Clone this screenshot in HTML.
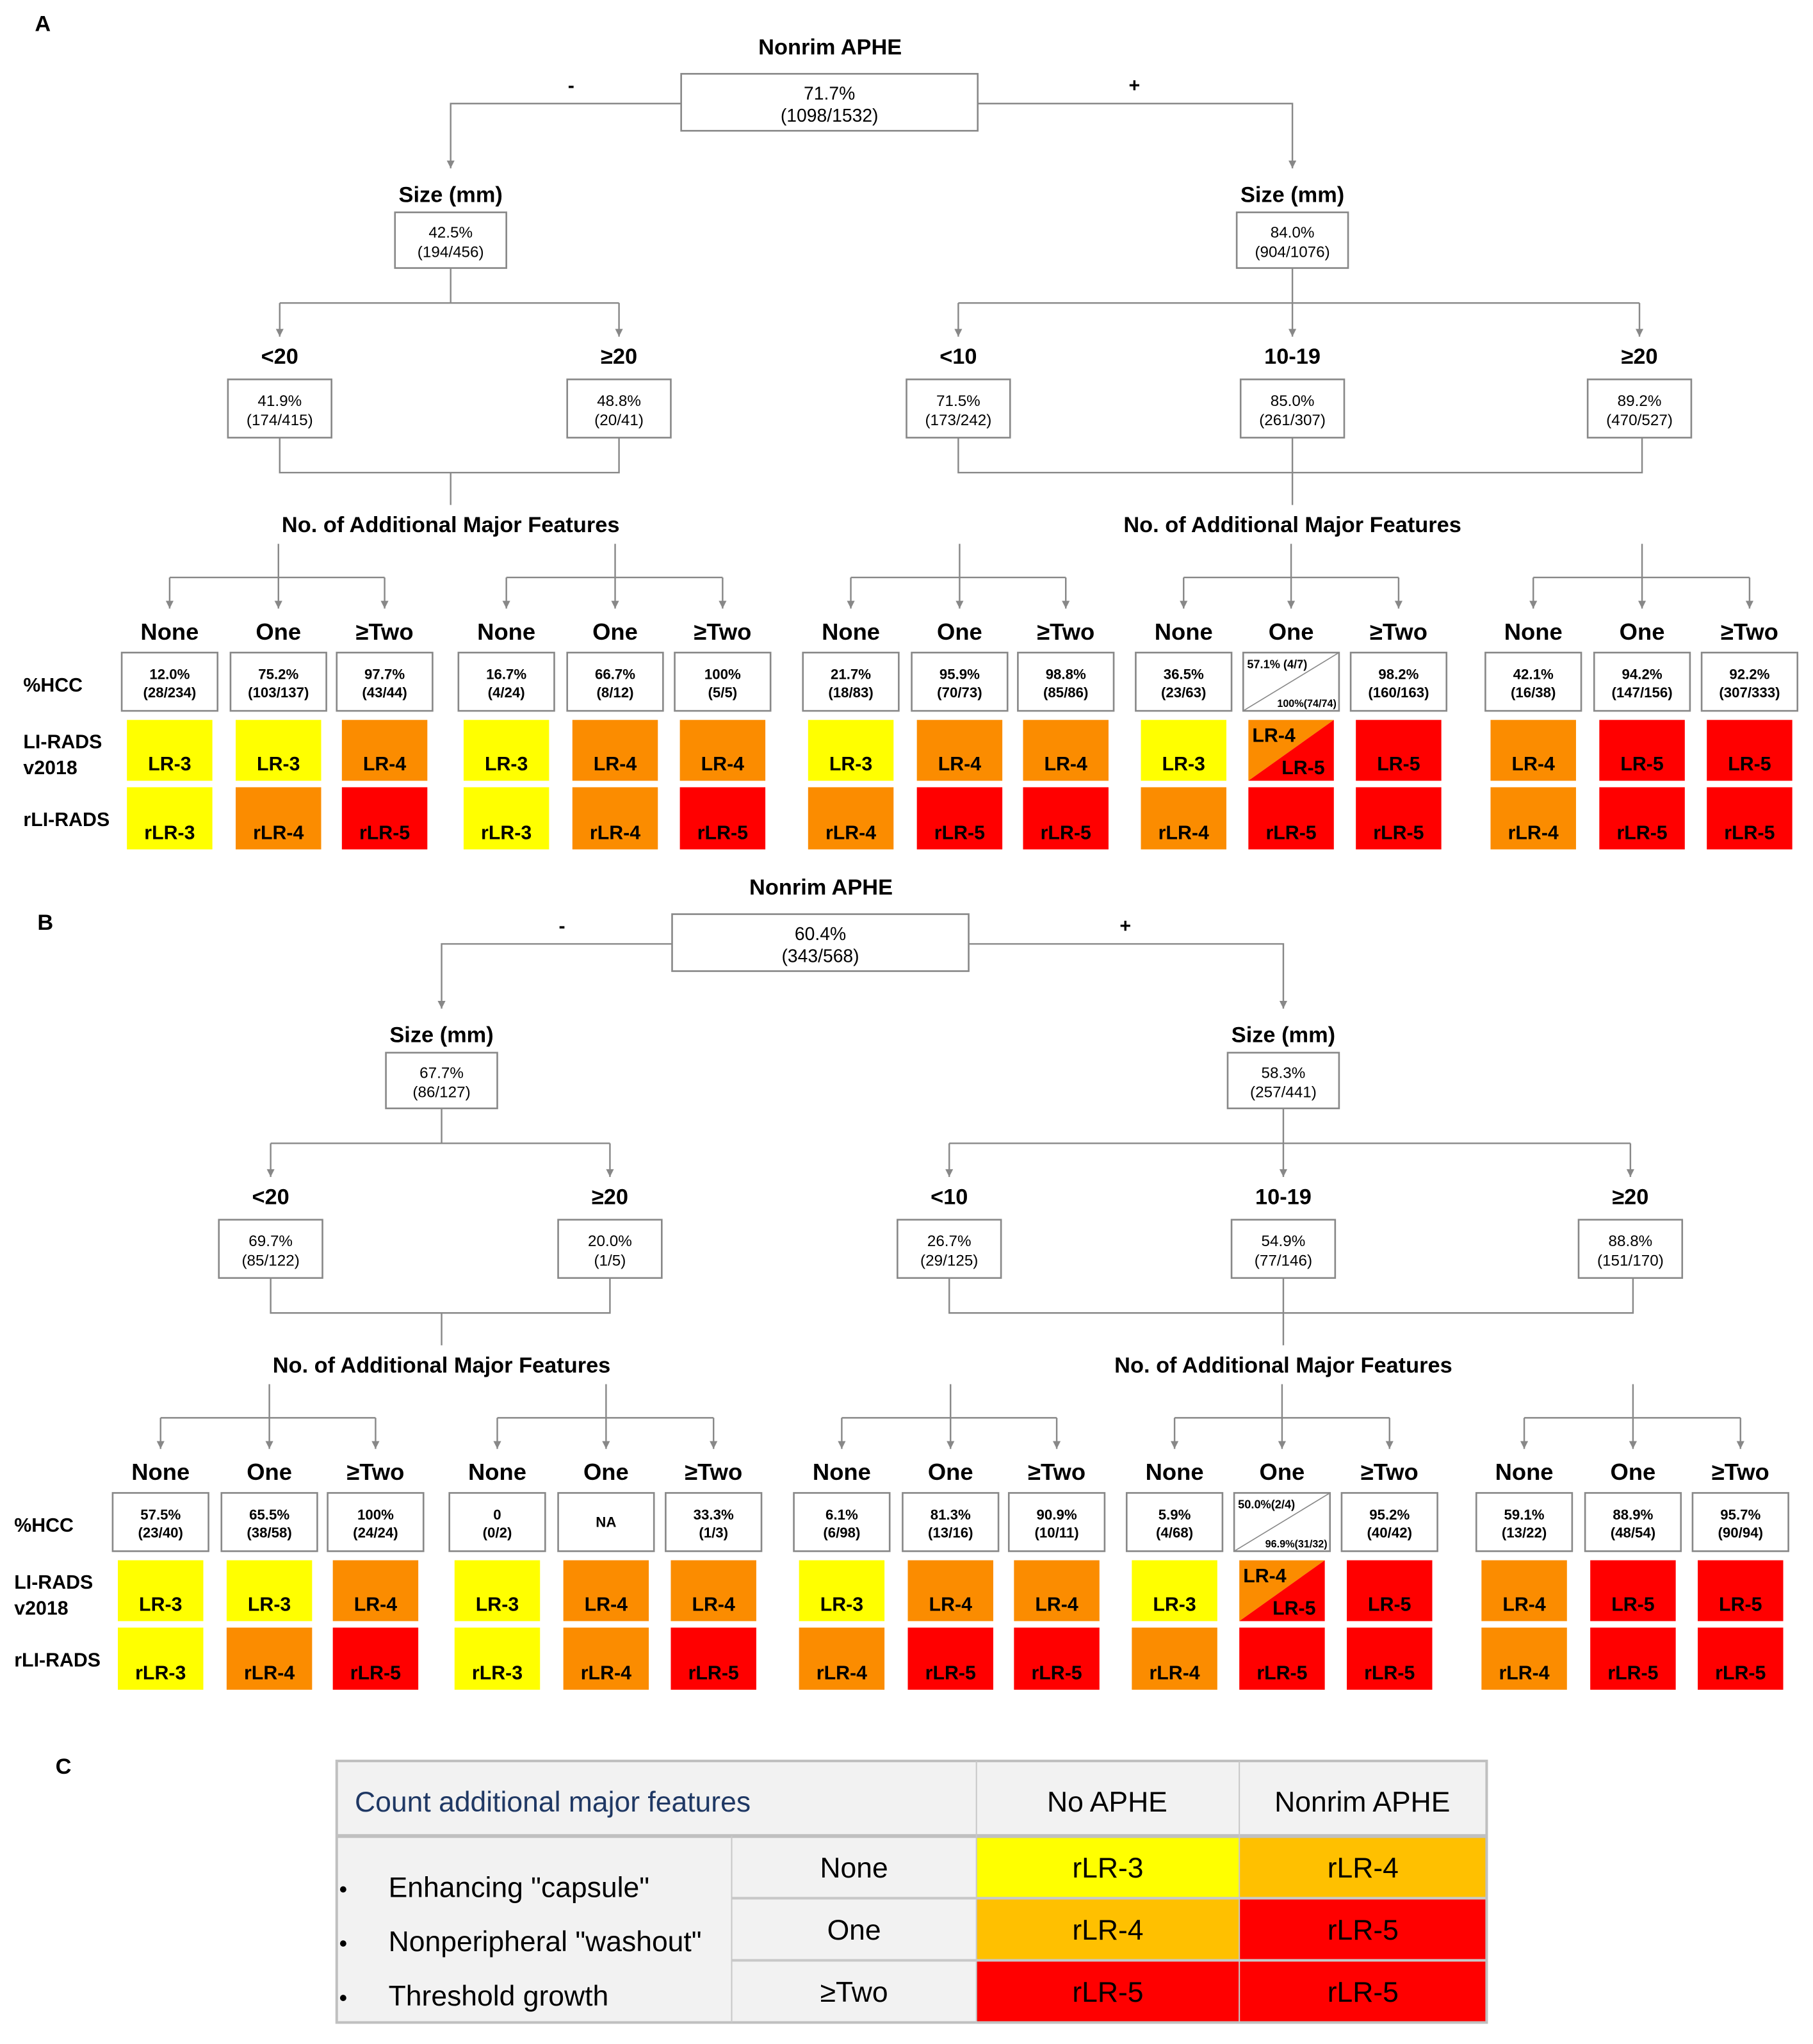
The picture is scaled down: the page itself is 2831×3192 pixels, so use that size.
<!DOCTYPE html>
<html><head><meta charset="utf-8"><style>
html,body{margin:0;padding:0;background:#fff;}
svg{display:block;}
text{font-family:"Liberation Sans",Arial,sans-serif;}
</style></head>
<body>
<svg id="fig" xmlns="http://www.w3.org/2000/svg" width="2831" height="3192" viewBox="0 0 1400 1578.6" preserveAspectRatio="none">
<defs><marker id="arr" viewBox="0 0 10 10" refX="10" refY="5" markerWidth="7" markerHeight="6" orient="auto" markerUnits="userSpaceOnUse"><path d="M0,0 L10,5 L0,10 z" fill="#888"/></marker></defs>
</svg>
<script>
// ---- data ----
const groupLabels = ["None","One","\u2265Two"];
const rootPctA = ["71.7%","(1098/1532)"];
const rootPctB = ["60.4%","(343/568)"];
const sizeA = [["42.5%","(194/456)"],["84.0%","(904/1076)"]];
const sizeB = [["67.7%","(86/127)"],["58.3%","(257/441)"]];
const sizeCatsLeft = ["<20","\u226520"];
const sizeCatsRight = ["<10","10-19","\u226520"];
const sizeBoxesA = [["41.9%","(174/415)"],["48.8%","(20/41)"],["71.5%","(173/242)"],["85.0%","(261/307)"],["89.2%","(470/527)"]];
const sizeBoxesB = [["69.7%","(85/122)"],["20.0%","(1/5)"],["26.7%","(29/125)"],["54.9%","(77/146)"],["88.8%","(151/170)"]];
const hccA = [["12.0%","(28/234)"],["75.2%","(103/137)"],["97.7%","(43/44)"],["16.7%","(4/24)"],["66.7%","(8/12)"],["100%","(5/5)"],["21.7%","(18/83)"],["95.9%","(70/73)"],["98.8%","(85/86)"],["36.5%","(23/63)"],["SPLIT","57.1% (4/7)","100%(74/74)"],["98.2%","(160/163)"],["42.1%","(16/38)"],["94.2%","(147/156)"],["92.2%","(307/333)"]];
const lrA = ["LR-3","LR-3","LR-4","LR-3","LR-4","LR-4","LR-3","LR-4","LR-4","LR-3","LR-4/5","LR-5","LR-4","LR-5","LR-5"];
const rlrA = ["rLR-3","rLR-4","rLR-5","rLR-3","rLR-4","rLR-5","rLR-4","rLR-5","rLR-5","rLR-4","rLR-5","rLR-5","rLR-4","rLR-5","rLR-5"];
const hccB = [["57.5%","(23/40)"],["65.5%","(38/58)"],["100%","(24/24)"],["0","(0/2)"],["NA"],["33.3%","(1/3)"],["6.1%","(6/98)"],["81.3%","(13/16)"],["90.9%","(10/11)"],["5.9%","(4/68)"],["SPLIT","50.0%(2/4)","96.9%(31/32)"],["95.2%","(40/42)"],["59.1%","(13/22)"],["88.9%","(48/54)"],["95.7%","(90/94)"]];
const lrB = ["LR-3","LR-3","LR-4","LR-3","LR-4","LR-4","LR-3","LR-4","LR-4","LR-3","LR-4/5","LR-5","LR-4","LR-5","LR-5"];
const rlrB = ["rLR-3","rLR-4","rLR-5","rLR-3","rLR-4","rLR-5","rLR-4","rLR-5","rLR-5","rLR-4","rLR-5","rLR-5","rLR-4","rLR-5","rLR-5"];

const NS="http://www.w3.org/2000/svg";
const svg=document.getElementById('fig');
const YEL="#ffff00",ORG="#fb8c00",RED="#ff0000",GR="#888";
function colorOf(s){ if(s.endsWith('3'))return YEL; if(s.endsWith('4'))return ORG; return RED; }
function mk(tag,attrs,parent){const e=document.createElementNS(NS,tag);for(const k in attrs)e.setAttribute(k,attrs[k]);(parent||svg).appendChild(e);return e;}
function txt(x,y,s,size,weight,anchor,fill,parent){const t=mk('text',{x:x,y:y,'font-size':size,'font-weight':weight||'normal','text-anchor':anchor||'middle',fill:fill||'#000'},parent);t.textContent=s;return t;}
function line(pts,arrow,parent){const p=mk('polyline',{points:pts.map(a=>a.join(',')).join(' '),fill:'none',stroke:GR,'stroke-width':1.2},parent);if(arrow)p.setAttribute('marker-end','url(#arr)');return p;}
function box(x1,y1,x2,y2,lines,size,bold,parent){mk('rect',{x:x1,y:y1,width:x2-x1,height:y2-y1,fill:'#fff',stroke:GR,'stroke-width':1.3},parent);
  const cy=(y1+y2)/2; if(lines.length===1){txt((x1+x2)/2,cy+size*0.35,lines[0],size,bold,'middle','#000',parent);}
  else{txt((x1+x2)/2,cy-2,lines[0],size,bold,'middle','#000',parent);txt((x1+x2)/2,cy+size+1,lines[1],size,bold,'middle','#000',parent);}}

function panel(dx,dy,letter,root,size,sizeBoxes,hcc,lr,rlr){
  const g=mk('g',{transform:`translate(${dx},${dy})`});
  
  
  if(letter==='A') txt(33,24,letter,17,'bold','middle','#000',g);
  else txt(42,69,letter,17,'bold','middle','#000',g);
  txt(641,42,"Nonrim APHE",17,'bold','middle','#000',g);
  box(526,57,755,101,root,14,'normal',g);
  txt(441,71,"-",15,'bold','middle','#000',g);
  txt(876,71,"+",15,'bold','middle','#000',g);
  line([[526,80],[348,80],[348,130]],true,g);
  line([[755,80],[998,80],[998,130]],true,g);
  const sizeX=[348,998];
  sizeX.forEach((x,i)=>{txt(x,156,"Size (mm)",17,'bold','middle','#000',g);box(x-43,164,x+43,207,size[i],12,'normal',g);});
  const lx=[216,478], rx=[740,998,1266];
  line([[348,207],[348,234]],false,g); line([[216,234],[478,234]],false,g);
  lx.forEach(x=>line([[x,234],[x,260]],true,g));
  line([[998,207],[998,234]],false,g); line([[740,234],[1266,234]],false,g);
  rx.forEach(x=>line([[x,234],[x,260]],true,g));
  const cats=sizeCatsLeft.concat(sizeCatsRight), cx=lx.concat(rx);
  cx.forEach((x,i)=>{txt(x,281,cats[i],17,'bold','middle','#000',g);box(x-40,293,x+40,338,sizeBoxes[i],12,'normal',g);});
  line([[216,338],[216,365],[478,365],[478,338]],false,g); line([[348,365],[348,390]],false,g);
  line([[740,338],[740,365],[1268,365],[1268,338]],false,g); line([[998,338],[998,390]],false,g);
  txt(348,411,"No. of Additional Major Features",17,'bold','middle','#000',g);
  txt(998,411,"No. of Additional Major Features",17,'bold','middle','#000',g);
  const cols=[131,215,297,391,475,558,657,741,823,914,997,1080,1184,1268,1351];
  for(let k=0;k<5;k++){const a=cols[3*k],m=cols[3*k+1],b=cols[3*k+2];
    line([[m,420],[m,446]],false,g); line([[a,446],[b,446]],false,g);
    [a,m,b].forEach(x=>line([[x,446],[x,470]],true,g));}
  txt(18,534,"%HCC",15,'bold','start','#000',g);
  txt(18,578,"LI-RADS",15,'bold','start','#000',g);
  txt(18,598,"v2018",15,'bold','start','#000',g);
  txt(18,638,"rLI-RADS",15,'bold','start','#000',g);
  cols.forEach((c,i)=>{
    const cg=mk('g',{},g);
    
    
    txt(c,494,groupLabels[i%3],18,'bold','middle','#000',cg);
    const h=hcc[i];
    if(h[0]==="SPLIT"){
      mk('rect',{x:c-37,y:504,width:74,height:45,fill:'#fff',stroke:GR,'stroke-width':1.3},cg);
      mk('line',{x1:c-37,y1:549,x2:c+37,y2:504,stroke:GR,'stroke-width':0.8},cg);
      txt(c-34,516,h[1],9,'bold','start','#000',cg);
      txt(c+35,546,h[2],8,'bold','end','#000',cg);
    } else box(c-37,504,c+37,549,h,11,'bold',cg);
    const L=lr[i];
    if(L==="LR-4/5"){
      mk('polygon',{points:`${c-33},556 ${c+33},556 ${c-33},603`,fill:ORG},cg);
      mk('polygon',{points:`${c+33},556 ${c+33},603 ${c-33},603`,fill:RED},cg);
      txt(c-30,573,"LR-4",15,'bold','start','#000',cg);
      txt(c+26,598,"LR-5",15,'bold','end','#000',cg);
    } else {
      mk('rect',{x:c-33,y:556,width:66,height:47,fill:colorOf(L)},cg);
      txt(c,595,L,15,'bold','middle','#000',cg);
    }
    const R=rlr[i];
    mk('rect',{x:c-33,y:608,width:66,height:48,fill:colorOf(R)},cg);
    txt(c,648,R,15,'bold','middle','#000',cg);
  });
}
panel(0,0,'A',rootPctA,sizeA,sizeBoxesA,hccA,lrA,rlrA);
panel(-7,649,'B',rootPctB,sizeB,sizeBoxesB,hccB,lrB,rlrB);

// ---- panel C table ----
const tableHeads=["No APHE","Nonrim APHE"];
const tableRows=["None","One","\u2265Two"];
const noAphe=["rLR-3","rLR-4","rLR-5"];
const nonrimAphe=["rLR-4","rLR-5","rLR-5"];
const features=['Enhancing "capsule"','Nonperipheral "washout"','Threshold growth'];
const C=mk('g',{});


function ccol(s){return s.endsWith('3')?YEL:(s.endsWith('4')?'#ffc000':RED);}
txt(49,1370,"C",17,'bold','middle','#000',C);
const X0=260,X1=565,X2=754,X3=957,X4=1148,Y0=1360,Y1=1418,RH=48;
mk('rect',{x:X0,y:Y0,width:X4-X0,height:1562-Y0,fill:'#f2f2f2'},C);
txt(274,1399,"Count additional major features",22,'normal','start','#1f3864',C);
tableHeads.forEach((h,i)=>txt(i?1052:855,1399,h,22,'normal','middle','#000',C));
tableRows.forEach((r,i)=>{const y=Y1+i*RH;
  txt((X1+X2)/2,y+32,r,22,'normal','middle','#000',C);
  mk('rect',{x:X2,y:y,width:X3-X2,height:RH,fill:ccol(noAphe[i])},C);
  mk('rect',{x:X3,y:y,width:X4-X3,height:RH,fill:ccol(nonrimAphe[i])},C);
  txt((X2+X3)/2,y+32,noAphe[i],22,'normal','middle','#000',C);
  txt((X3+X4)/2,y+32,nonrimAphe[i],22,'normal','middle','#000',C);
  if(i>0) mk('line',{x1:X1,y1:y,x2:X4,y2:y,stroke:'#c8c8c8','stroke-width':2},C);
});
features.forEach((f,i)=>{const y=1465+i*42;txt(265,y,"\u2022",18,'normal','middle','#000',C);txt(300,y,f,22,'normal','start','#000',C);});
mk('rect',{x:X0,y:Y0,width:X4-X0,height:1562-Y0,fill:'none',stroke:'#c0c0c0','stroke-width':2},C);
mk('line',{x1:X0,y1:Y1,x2:X4,y2:Y1,stroke:'#c0c0c0','stroke-width':3},C);
[X1].forEach(x=>mk('line',{x1:x,y1:Y1,x2:x,y2:1562,stroke:'#c8c8c8','stroke-width':1},C));
[X2,X3].forEach(x=>mk('line',{x1:x,y1:Y0,x2:x,y2:1562,stroke:'#c8c8c8','stroke-width':1},C));
</script>
</body></html>
